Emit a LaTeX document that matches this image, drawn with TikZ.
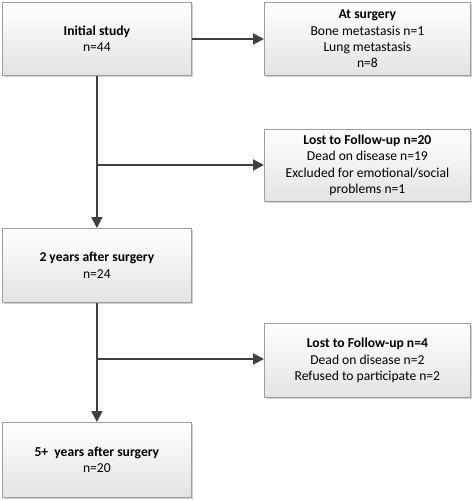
\documentclass[tikz,border=0pt]{standalone}
\usepackage{fontspec}
\setmainfont{Carlito}
\usetikzlibrary{shadows,arrows.meta}
\begin{document}
\begin{tikzpicture}[x=1pt,y=-1pt,
  box/.style={draw=black!38, line width=0.8pt, top color=white, bottom color=black!11,
    drop shadow={shadow xshift=1.6pt, shadow yshift=-1.6pt, fill=black!30, opacity=0.6},
    minimum width=189pt, minimum height=73pt, anchor=north west, inner sep=2pt,
    align=center, font=\fontsize{13.6}{16.3}\selectfont},
  conn/.style={draw=black!75, line width=1.9pt, -{Triangle[length=11pt,width=11pt]}},
  link/.style={draw=black!75, line width=1.9pt}]
\useasboundingbox (0,0) rectangle (473,500);
\node[box] (init) at (2,2) {\textbf{Initial study}\\n=44};
\node[box, minimum width=206pt] (surg) at (264,2) {\textbf{At surgery}\\Bone metastasis n=1\\Lung metastasis\\n=8};
\node[box, minimum width=206pt, minimum height=72pt] (lost1) at (264,129) {\textbf{Lost to Follow-up n=20}\\Dead on disease n=19\\Excluded for emotional/social\\problems n=1};
\node[box, minimum height=74pt] (two) at (2,228) {\textbf{2 years after surgery}\\n=24};
\node[box, minimum width=206pt, minimum height=74pt] (lost2) at (264,323) {\textbf{Lost to Follow-up n=4}\\Dead on disease n=2\\Refused to participate n=2};
\node[box, minimum height=75pt] (five) at (2,422) {\textbf{5+\ \ years after surgery}\\n=20};
\coordinate (b1) at (init.south |- 0,165);
\coordinate (b2) at (two.south |- 0,359);
\draw[conn] (init.east |- 0,39) -- (surg.west |- 0,39);
\draw[conn] (init.south) -- (two.north);
\draw[conn] (b1) -- (b1 -| lost1.west);
\draw[conn] (two.south) -- (five.north);
\draw[conn] (b2) -- (b2 -| lost2.west);
\end{tikzpicture}
\end{document}
